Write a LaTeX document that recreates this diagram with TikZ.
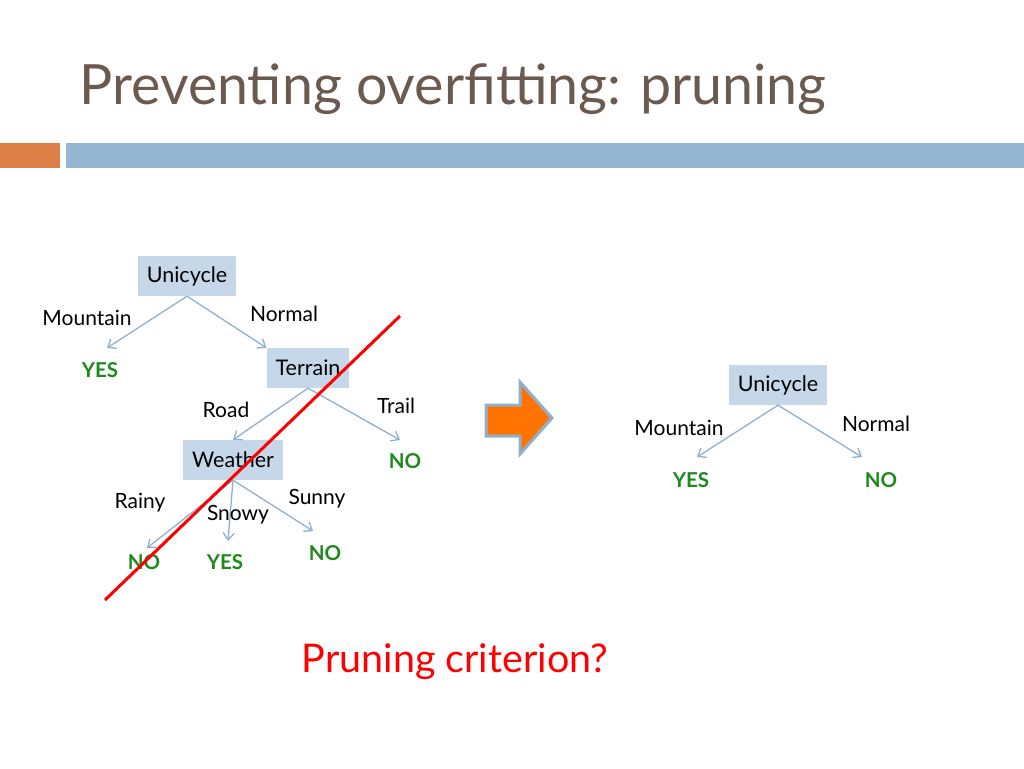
\documentclass[tikz,border=0pt]{standalone}
\usepackage{fontspec}
\setmainfont{Lato}
\usetikzlibrary{positioning}
\definecolor{titlegray}{HTML}{6B5A50}
\definecolor{barblue}{HTML}{94B6D2}
\definecolor{barorange}{HTML}{DD8047}
\definecolor{boxblue}{HTML}{C6D7EA}
\definecolor{leafgreen}{HTML}{1E8A1E}
\definecolor{edgeblue}{HTML}{8FB0CF}
\tikzset{
  attr/.style={fill=boxblue, minimum height=40pt, inner xsep=9pt, font=\fontsize{21.5}{23}\selectfont},
  lbl/.style={font=\fontsize{21}{23}\selectfont},
  leaf/.style={text=leafgreen, font=\fontsize{20.5}{22}\selectfont\bfseries},
  edge/.style={edgeblue, line width=1.3pt, -{Straight Barb[length=7pt,width=11pt]}}
}
\usetikzlibrary{arrows.meta}
\begin{document}
\begin{tikzpicture}[x=1pt,y=-1pt]
  \useasboundingbox[fill=white] (0,0) rectangle (1024,768);
  % title and bars
  \node[anchor=base west, text=titlegray, font=\fontsize{55.5}{58}\selectfont] (title) at (76,104) {Preventing overfitting: pruning};
  \fill[barorange] (0,143) rectangle (60,168);
  \fill[barblue] (66,143) rectangle (1024,168);

  % left tree
  \node[attr] (uni) at (187,276) {Unicycle};
  \node[attr] (ter) at (308,368) {Terrain};
  \node[attr] (wea) at (233,460) {Weather};
  \coordinate (yes1) at (107,348);
  \coordinate (no1) at (400,440);
  \coordinate (no2) at (147,548);
  \coordinate (yes2) at (228,541);
  \coordinate (no3) at (313,531);
  \draw[edge] (uni.south) -- (yes1);
  \draw[edge] (uni.south) -- (ter.north west);
  \draw[edge] (ter.south) -- (wea.north);
  \draw[edge] (ter.south) -- (no1);
  \draw[edge] (wea.south) -- (no2);
  \draw[edge] (wea.south) -- (yes2);
  \draw[edge] (wea.south) -- (no3);
  \node[lbl] (m1) at (87,318) {Mountain};
  \node[lbl] (n1) at (284,314) {Normal};
  \node[leaf] (ly1) at (100,370) {YES};
  \node[lbl] (road) at (226,410) {Road};
  \node[lbl] (trail) at (396,406) {Trail};
  \node[leaf] (ln1) at (405,461) {NO};
  \node[lbl] (rainy) at (140,503) {Rainy};
  \node[lbl] (snowy) at (238,515) {Snowy};
  \node[lbl] (sunny) at (317,499) {Sunny};
  \node[leaf] (ln2) at (144,562) {NO};
  \node[leaf] (ly2) at (225,562) {YES};
  \node[leaf] (ln3) at (325,553) {NO};
  \draw[red, line width=3pt] (105,600) -- (400,316);

  % block arrow
  \draw[fill=orange!90!red, draw=edgeblue, line width=3pt, line join=miter]
    (486,405) -- (520,405) -- (520,382) -- (552,418) -- (520,454) -- (520,436) -- (486,436) -- cycle;

  % right tree
  \node[attr] (uni2) at (778,385) {Unicycle};
  \coordinate (yes3) at (697,457);
  \coordinate (no4) at (862,457);
  \draw[edge] (uni2.south) -- (yes3);
  \draw[edge] (uni2.south) -- (no4);
  \node[lbl] (m2) at (679,428) {Mountain};
  \node[lbl] (n2) at (876,424) {Normal};
  \node[leaf] (ly3) at (691,480) {YES};
  \node[leaf] (ln4) at (881,480) {NO};

  \node[text=red, font=\fontsize{39.5}{42}\selectfont] (crit) at (455,662) {Pruning criterion?};
\end{tikzpicture}
\end{document}
